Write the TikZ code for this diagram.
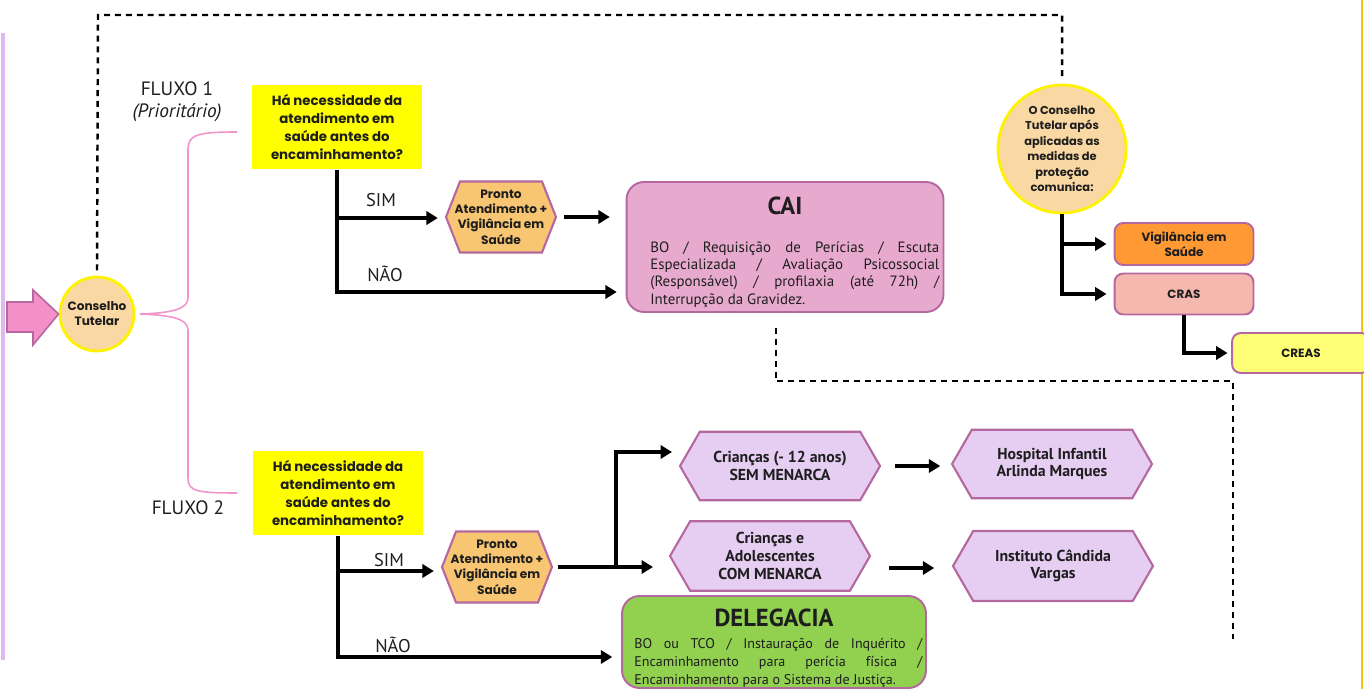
\documentclass[tikz,border=0pt]{standalone}
\usepackage{fontspec}
\setmainfont{PT Sans}
\newfontfamily\gothic{Poppins}
\usetikzlibrary{shapes.symbols,arrows.meta,positioning,calc}

\definecolor{qyellow}{HTML}{FFFF00}
\definecolor{peach}{HTML}{F9D8A4}
\definecolor{ringyellow}{HTML}{FFF200}
\definecolor{hexorange}{HTML}{F8C672}
\definecolor{mauve}{HTML}{B5679F}
\definecolor{caipink}{HTML}{E8A9CE}
\definecolor{lavender}{HTML}{E6CDF2}
\definecolor{delgreen}{HTML}{92D050}
\definecolor{vigorange}{HTML}{FF9933}
\definecolor{craspink}{HTML}{F5B8AE}
\definecolor{creasyellow}{HTML}{FFFF75}
\definecolor{arrowpink}{HTML}{F48FC8}
\definecolor{bracepink}{HTML}{F294CC}
\definecolor{edgelilac}{HTML}{DDBBF0}
\definecolor{edgegold}{HTML}{F5C518}
\definecolor{ink}{HTML}{1E1E1E}

\tikzset{
  question/.style={fill=qyellow, align=center, inner sep=0pt, text=ink,
    minimum width=3.4cm, minimum height=1.7cm,
    font=\gothic\bfseries\fontsize{7.6}{10.2}\selectfont},
  ring/.style={circle, fill=peach, draw=ringyellow, line width=1.6pt, align=center,
    inner sep=0pt, text=ink},
  hexbox/.style={signal, signal to=east and west, draw=mauve, line width=1.2pt,
    align=center, inner sep=1pt, text=ink},
  pronto/.style={hexbox, fill=hexorange, signal pointer angle=137, inner xsep=-6pt,
    minimum width=2.2cm, minimum height=1.42cm,
    font=\gothic\bfseries\fontsize{6.9}{8.7}\selectfont},
  endhex/.style={hexbox, fill=lavender, signal pointer angle=120,
    minimum width=4cm, minimum height=1.37cm,
    font=\bfseries\fontsize{9}{10}\selectfont},
  servicebox/.style={draw=mauve, line width=1.1pt, rounded corners=5pt, align=center,
    inner sep=0pt, text=ink, font=\gothic\bfseries\fontsize{6.8}{8.6}\selectfont},
  bigbox/.style={draw=mauve, line width=1.1pt, rounded corners=10pt, inner sep=0pt},
  boxtitle/.style={font=\bfseries\fontsize{14}{16}\selectfont, text=ink},
  boxbody/.style={align=left, inner sep=0pt, text=ink, anchor=north west},
  answer/.style={font=\fontsize{10.5}{12}\selectfont, text=ink},
  fluxo/.style={font=\fontsize{11}{13}\selectfont, text=ink},
  flowline/.style={line width=2.1pt, -{Triangle[length=6.5pt,width=7.5pt]}},
  linkdash/.style={line width=1.4pt, dash pattern=on 3.4pt off 2.8pt},
}

\begin{document}
\begin{tikzpicture}[x=0.02cm, y=-0.02cm]
\useasboundingbox (0,0) rectangle (1364,689);

% page edges
\draw[edgelilac, line width=2.3pt] (3,33) -- (3,660);
\draw[edgegold, line width=1.2pt] (1362,0) -- (1362,689);

% entrada
\node[ring, minimum size=1.48cm, font=\gothic\bfseries\fontsize{6.9}{8.6}\selectfont] (cons) at (97,314) {Conselho\\Tutelar};
\draw[fill=arrowpink, draw=mauve, line width=0.9pt] (7,302) -- (33,302) -- (33,290) -- (cons.west) -- (33,345) -- (33,332) -- (7,332) -- cycle;
\draw[bracepink, line width=0.9pt] (237,132) .. controls (196,132) and (188,135) .. (188,150) -- (188,298)
  .. controls (188,309) and (172,313) .. (140,314) .. controls (172,315) and (188,319) .. (188,330)
  -- (188,478) .. controls (188,491) and (196,493) .. (237,493);

\node[fluxo] (f1) at (177,89) {FLUXO 1};
\node[fluxo, font=\itshape\fontsize{11}{13}\selectfont] (f1p) at (177,113) {(Prioritário)};
\node[fluxo] (f2) at (188,508) {FLUXO 2};

% fluxo 1
\node[question] (q1) at (337,127) {Há necessidade da\\atendimento em\\saúde antes do\\encaminhamento?};
\node[pronto] (pr1) at (501,217) {Pronto\\Atendimento +\\Vigilância em\\Saúde};
\node[bigbox, fill=caipink, minimum width=6.34cm, minimum height=2.6cm] (cai) at (785,247) {};
\node[boxtitle] (caititle) at (785,206) {CAI};
\node[boxbody, font=\fontsize{8.5}{9.9}\selectfont] (caibody) at (650,241) {%
\makebox[5.78cm][s]{BO / Requisição de Perícias / Escuta}\\
\makebox[5.78cm][s]{Especializada / Avaliação Psicossocial}\\
\makebox[5.78cm][s]{(Responsável) / profilaxia (até 72h) /}\\
Interrupção da Gravidez.};

\draw[flowline, shorten >=5pt] (q1.south) |- (cai.west |- 0,292);
\draw[flowline, shorten >=4pt] (q1.south |- 0,218) -- (pr1.west |- 0,218);
\draw[flowline, shorten <=4pt, shorten >=9pt] (pr1.east) -- (cai.west |- pr1.east);
\node[answer] (sim1) at (381,200) {SIM};
\node[answer] (nao1) at (385,274) {NÃO};

% fluxo 2
\node[question] (q2) at (338,493) {Há necessidade da\\atendimento em\\saúde antes do\\encaminhamento?};
\node[pronto] (pr2) at (497,567) {Pronto\\Atendimento +\\Vigilância em\\Saúde};
\node[endhex] (sem) at (780,466) {Crianças (- 12 anos)\\SEM MENARCA};
\node[endhex, minimum height=1.39cm] (com) at (770,556) {Crianças e\\Adolescentes\\COM MENARCA};
\node[endhex] (hosp) at (1052,464) {Hospital Infantil\\Arlinda Marques};
\node[endhex, minimum height=1.4cm] (inst) at (1053,566) {Instituto Cândida\\Vargas};
\node[bigbox, fill=delgreen, minimum width=6.08cm, minimum height=1.84cm] (deleg) at (774,642) {};
\node[boxtitle] (delegtitle) at (774,618) {DELEGACIA};
\node[boxbody, font=\fontsize{8}{10.2}\selectfont] (delegbody) at (634,638) {%
\makebox[5.76cm][s]{BO ou TCO / Instauração de Inquérito /}\\
\makebox[5.76cm][s]{Encaminhamento para perícia física /}\\
Encaminhamento para o Sistema de Justiça.};

\coordinate (split) at (616,567);
\draw[flowline, shorten >=5pt] (q2.south) |- (deleg.west |- 0,657);
\draw[flowline, shorten >=4pt] (q2.south |- 0,571) -- (pr2.west |- 0,571);
\draw[flowline, shorten <=3pt, shorten >=9pt] (pr2.east) -- (com.west |- pr2.east);
\draw[flowline] (split) |- (672,452);
\draw[flowline, shorten <=8pt, shorten >=6pt] (sem.east) -- (hosp.west |- sem.east);
\draw[flowline, shorten <=10pt, shorten >=10pt] (com.east |- 0,568) -- (inst.west |- 0,568);
\node[answer] (sim2) at (389,560) {SIM};
\node[answer] (nao2) at (393,645) {NÃO};

% comunicacao
\node[ring, minimum width=2.56cm, font=\gothic\bfseries\fontsize{6.5}{8.8}\selectfont] (oc) at (1062,149) {O Conselho\\Tutelar após\\aplicadas as\\medidas de\\proteção\\comunica:};
\node[servicebox, fill=vigorange, minimum width=2.78cm, minimum height=0.84cm] (vig) at (1184,244) {Vigilância em\\Saúde};
\node[servicebox, fill=craspink, minimum width=2.78cm, minimum height=0.82cm] (cras) at (1184,294) {CRAS};
\node[servicebox, fill=creasyellow, minimum width=2.76cm, minimum height=0.8cm] (creas) at (1301,353) {CREAS};
\draw[flowline, shorten >=4pt] (oc.south) |- (cras.west);
\draw[flowline, shorten >=4pt] (oc.south |- vig.west) -- (vig.west);
\draw[flowline, shorten >=2pt] (cras.south) |- (creas.west);

% ligacoes tracejadas
\draw[linkdash] ([yshift=3pt]cons.north) -- (98,15) -| ([yshift=3pt]oc.north);
\draw[linkdash] (776,328) -- (776,381) -- (1233,381) -- (1233,640);

\end{tikzpicture}
\end{document}
